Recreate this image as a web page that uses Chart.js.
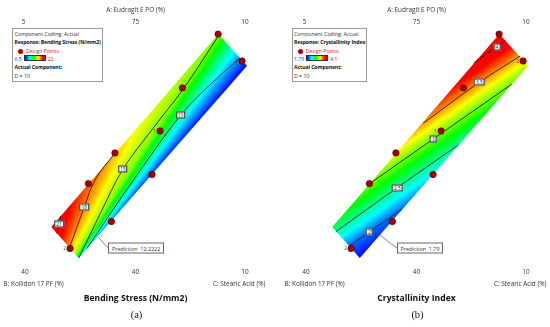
<!DOCTYPE html>
<html lang="en">
<head>
<meta charset="UTF-8">
<title>Mixture contour plots</title>
<script src="https://cdn.jsdelivr.net/npm/chart.js@4"></script>
<style>
  body { margin: 0; background: #fff; }
  #page { position: relative; width: 550px; height: 327px; overflow: hidden; font-family: 'Open Sans', sans-serif; color: #222; }
  .panel { position: absolute; top: 0; width: 269px; height: 327px; }
  .panel canvas { position: absolute; left: 0; top: 0; }
  .txt { position: absolute; white-space: pre; line-height: 1; }
  .mid { transform: translate(-50%, -50%); }
  .lft { transform: translate(0, -50%); }
  .rgt { transform: translate(-100%, -50%); }
  .axis { font-size: 6.4px; color: #333; }
  .name { font-size: 8.6px; font-weight: 700; color: #111; }
  .sub { font-family: 'Liberation Serif', serif; font-size: 10.5px; color: #111; }
  .legend { position: absolute; top: 28px; height: 51px; border: 1px solid #9a9a9a; background: #fff; padding: 1px 1px 0 1.5px; font-size: 5.2px; line-height: 8.3px; color: #333; white-space: nowrap; }
  .legend b { color: #111; letter-spacing: -0.12px; }
  .dot { display: inline-block; width: 5px; height: 5px; border-radius: 50%; background: #a80000; margin: 0 3px 0 3.5px; vertical-align: -1px; }
  .red { color: #d42020; }
  .blue { color: #3030d0; }
  .bar { display: inline-block; width: 20px; height: 4.6px; margin: 0 2px; vertical-align: -0.5px; border: 0.6px solid #333; background: linear-gradient(to right, #00f, #0ff 22%, #0f0 44%, #ff0 66%, #f00 87%); }
  .clab { position: absolute; transform: translate(-50%, -50%); background: #fff; border: 0.7px solid #222; font-size: 4.8px; line-height: 5px; padding: 0 1px; white-space: nowrap; }
  .ptag { position: absolute; transform: translate(-100%, -50%); font-size: 4.8px; color: #444; }
  .pred { position: absolute; transform: translate(0, -50%); background: #fff; border: 0.8px solid #666; font-size: 5.4px; line-height: 6px; padding: 1.5px 2.5px; white-space: pre; color: #333; }
</style>
</head>
<body>
<div id="page">
  <div class="panel" id="panelA" style="left:0px"><canvas id="chartA" width="269" height="327"></canvas></div>
  <div class="panel" id="panelB" style="left:281px"><canvas id="chartB" width="269" height="327"></canvas></div>
</div>

<script>
// design space, plot units (0..100 across the plot frame)
const regionX = [13.3, 84.4, 96.6, 25.0];
const regionY = [15.0, 97.4, 83.9, 1.7];
const designX = [84.3, 94.5, 69.1, 59.6, 40.4, 29.1, 56.2, 38.9, 21.3];
const designY = [97.4, 85.9, 74.4, 56.0, 46.6, 33.5, 37.4, 17.3, 5.8];
const designTags = ['', '2', '', '1', '', '', '', '', '2'];

const tickTop = ['5', '75', '10'];
const tickBottom = ['40', '40', '10'];

// (a) bending stress contours
const stressRange = [6.5, 22];
const stress21 = [[17.3, 19.7], [16.6, 16.2], [15.7, 12.1]];
const stress18 = [[20.9, 5.6], [27.4, 23.6], [31.9, 35.0], [40.4, 46.6]];
const stress15 = [[25.0, 1.7], [34.5, 21.4], [43.8, 39.7], [56.6, 57.1], [69.8, 74.4], [84.4, 96.6]];
const stress10 = [[28.5, 5.8], [46.8, 32.9], [68.4, 62.8], [82.1, 76.9], [93.6, 87.2]];
const stressPrediction = [33.4, 10.5];
const stressPredValue = '12.2222';

// (b) crystallinity index contours
const crystRange = [1.79, 4.1];
const cryst4 = [[73.5, 85.1], [83.3, 92.0], [87.0, 94.6]];
const cryst35 = [[52.0, 59.3], [75.9, 76.8], [93.2, 88.0]];
const cryst3 = [[29.4, 33.6], [56.3, 52.6], [89.7, 76.0]];
const cryst25 = [[14.9, 13.0], [41.0, 31.8], [66.9, 50.0]];
const cryst2 = [[20.9, 7.1], [29.1, 12.9], [43.0, 22.6]];
const crystPrediction = [33.6, 11.5];
const crystPredValue = '1.79';

// blue -> cyan -> green -> yellow -> red, red reached a bit before the top of the bar
const RED_AT = 0.87;
function jet(t) {
  const c = [[0, 0, 255], [0, 255, 255], [0, 255, 0], [255, 255, 0], [255, 0, 0]];
  t = Math.max(0, Math.min(1, t / RED_AT));
  const f = t * 4, i = Math.min(3, Math.floor(f)), u = f - i;
  const a = c[i], b = c[i + 1];
  return 'rgb(' + a.map((v, k) => Math.round(v + (b[k] - v) * u)).join(',') + ')';
}

// fills the design region with the response colours, stops placed where the contours sit
const fieldPlugin = {
  id: 'field',
  beforeDatasetsDraw(chart, args, o) {
    const ctx = chart.ctx, xs = chart.scales.x, ys = chart.scales.y;
    const toPx = p => [xs.getPixelForValue(p[0]), ys.getPixelForValue(p[1])];
    const poly = regionX.map((x, i) => toPx([x, regionY[i]]));
    let proj, n, c;
    if (o.center) {
      c = toPx(o.center);
      proj = q => Math.atan2(q[1] - c[1], q[0] - c[0]);
    } else {
      let dx = 0, dy = 0;
      o.contours.forEach(k => {
        const a = toPx(k.pts[0]), b = toPx(k.pts[k.pts.length - 1]);
        const len = Math.hypot(b[0] - a[0], b[1] - a[1]);
        dx += (b[0] - a[0]) / len; dy += (b[1] - a[1]) / len;
      });
      const len = Math.hypot(dx, dy);
      n = [-dy / len, dx / len];
      proj = q => q[0] * n[0] + q[1] * n[1];
    }
    const marks = o.contours.map(k => ({
      s: k.pts.reduce((acc, p) => acc + proj(toPx(p)), 0) / k.pts.length,
      v: k.level
    })).sort((a, b) => a.s - b.s);
    const ends = poly.map(proj);
    const sMin = Math.min(...ends), sMax = Math.max(...ends);
    const [lo, hi] = o.range;
    const up = marks[marks.length - 1].v > marks[0].v;
    marks.unshift({ s: sMin, v: up ? lo : hi });
    marks.push({ s: sMax, v: up ? hi : lo });
    const stops = [];
    for (let i = 0; i < marks.length; i++) {
      stops.push(marks[i]);
      if (i + 1 < marks.length) {
        const m0 = marks[i], m1 = marks[i + 1];
        for (let q = 1; q <= 4; q++) {
          const a = lo + (hi - lo) * RED_AT * q / 4;
          if ((a - m0.v) * (a - m1.v) < 0) {
            stops.push({ s: m0.s + (a - m0.v) / (m1.v - m0.v) * (m1.s - m0.s), v: a });
          }
        }
      }
    }
    stops.sort((a, b) => a.s - b.s);

    let grad, off;
    if (o.center) {
      const start = sMin - 0.05;
      grad = ctx.createConicGradient(start, c[0], c[1]);
      off = s => (s - start) / (2 * Math.PI);
    } else {
      grad = ctx.createLinearGradient(n[0] * sMin, n[1] * sMin, n[0] * sMax, n[1] * sMax);
      off = s => (s - sMin) / (sMax - sMin);
    }
    stops.forEach(st => grad.addColorStop(Math.min(1, Math.max(0, off(st.s))), jet((st.v - lo) / (hi - lo))));

    ctx.save();
    ctx.beginPath();
    poly.forEach((p, i) => i ? ctx.lineTo(p[0], p[1]) : ctx.moveTo(p[0], p[1]));
    ctx.closePath();
    ctx.fillStyle = grad;
    ctx.fill();
    ctx.restore();
  }
};

// contour value boxes, point numbers and the prediction flag
const tagPlugin = {
  id: 'tags',
  afterDraw(chart, args, o) {
    const host = chart.canvas.parentNode;
    host.querySelectorAll('.auto').forEach(e => e.remove());
    const xs = chart.scales.x, ys = chart.scales.y;
    const add = (cls, str, x, y) => {
      const d = document.createElement('div');
      d.className = 'auto ' + cls;
      d.textContent = str;
      d.style.left = x + 'px';
      d.style.top = y + 'px';
      host.appendChild(d);
    };
    o.contours.forEach(k => {
      const p = k.pts[k.at];
      add('clab', String(k.level), xs.getPixelForValue(p[0]), ys.getPixelForValue(p[1]));
    });
    designTags.forEach((t, i) => {
      if (t) add('ptag', t, xs.getPixelForValue(designX[i]) - 4, ys.getPixelForValue(designY[i]));
    });
    const px = xs.getPixelForValue(o.prediction[0]), py = ys.getPixelForValue(o.prediction[1]);
    const bx = px + o.boxOffset[0], by = py + o.boxOffset[1];
    const ctx = chart.ctx;
    ctx.save();
    ctx.strokeStyle = '#666';
    ctx.lineWidth = 0.8;
    ctx.beginPath();
    ctx.moveTo(px, py);
    ctx.lineTo(bx, by);
    ctx.stroke();
    ctx.restore();
    add('pred', 'Prediction  ' + o.predText, bx, by);
  }
};

function buildPanel(panelId, canvasId, opts) {
  const host = document.getElementById(panelId);
  const put = (str, x, y, cls) => {
    const d = document.createElement('div');
    d.className = 'txt ' + cls;
    d.textContent = str;
    d.style.left = x + 'px';
    d.style.top = y + 'px';
    host.appendChild(d);
  };
  put('A: Eudragit E PO (%)', 135.5, 10, 'mid axis');
  [23.5, 135.5, 245].forEach((x, i) => put(tickTop[i], x, 22, 'mid axis'));
  [25, 135.5, 245].forEach((x, i) => put(tickBottom[i], x, 271.5, 'mid axis'));
  put('B: Kollidon 17 PF (%)', 3.5, 284.3, 'lft axis');
  put('C: Stearic Acid (%)', 265.5, 284.3, 'rgt axis');
  put(opts.title, 135.5, 297.5, 'mid name');
  put(opts.sub, 136.5, 315, 'mid sub');

  const lg = document.createElement('div');
  lg.className = 'legend';
  lg.style.left = opts.legendLeft + 'px';
  lg.innerHTML =
    '<div>Component Coding: Actual</div>' +
    '<div><b>Response: ' + opts.title + '</b></div>' +
    '<div class="red"><span class="dot"></span>Design Points</div>' +
    '<div><span class="blue">' + opts.range[0] + '</span><span class="bar"></span><span class="red">' + opts.range[1] + '</span></div>' +
    '<div><b>Actual Component:</b></div>' +
    '<div>D = 10</div>';
  host.appendChild(lg);

  const lines = opts.contours.map(k => ({
    type: 'scatter',
    showLine: true,
    data: k.pts.map(p => ({ x: p[0], y: p[1] })),
    borderColor: '#1e1e1e',
    borderWidth: 0.9,
    pointRadius: 0,
    tension: 0.35,
    fill: false
  }));

  new Chart(document.getElementById(canvasId), {
    type: 'scatter',
    data: {
      datasets: [{
        data: designX.map((x, i) => ({ x: x, y: designY[i] })),
        backgroundColor: '#a80000',
        borderColor: '#5c0000',
        borderWidth: 0.7,
        pointRadius: 3.2
      }].concat(lines)
    },
    options: {
      responsive: false,
      animation: false,
      events: [],
      layout: { padding: { left: 20, right: 14, top: 28, bottom: 65 } },
      scales: {
        x: { type: 'linear', min: 0, max: 100, display: false },
        y: { type: 'linear', min: 0, max: 100, display: false }
      },
      plugins: {
        legend: { display: false },
        tooltip: { enabled: false },
        field: { contours: opts.contours, range: opts.range, center: opts.center },
        tags: { contours: opts.contours, prediction: opts.prediction, predText: opts.predText, boxOffset: opts.boxOffset }
      }
    },
    plugins: [fieldPlugin, tagPlugin]
  });
}

buildPanel('panelA', 'chartA', {
  title: 'Bending Stress (N/mm2)',
  sub: '(a)',
  legendLeft: 12,
  range: stressRange,
  center: [9.4, -19.7],
  contours: [
    { level: 21, pts: stress21, at: 1 },
    { level: 18, pts: stress18, at: 1 },
    { level: 15, pts: stress15, at: 2 },
    { level: 10, pts: stress10, at: 2 }
  ],
  prediction: stressPrediction,
  predText: stressPredValue,
  boxOffset: [10, 11]
});

buildPanel('panelB', 'chartB', {
  title: 'Crystallinity Index',
  sub: '(b)',
  legendLeft: 10.5,
  range: crystRange,
  center: null,
  contours: [
    { level: 4, pts: cryst4, at: 1 },
    { level: 3.5, pts: cryst35, at: 1 },
    { level: 3, pts: cryst3, at: 1 },
    { level: 2.5, pts: cryst25, at: 1 },
    { level: 2, pts: cryst2, at: 1 }
  ],
  prediction: crystPrediction,
  predText: crystPredValue,
  boxOffset: [17, 13]
});
</script>
</body>
</html>
